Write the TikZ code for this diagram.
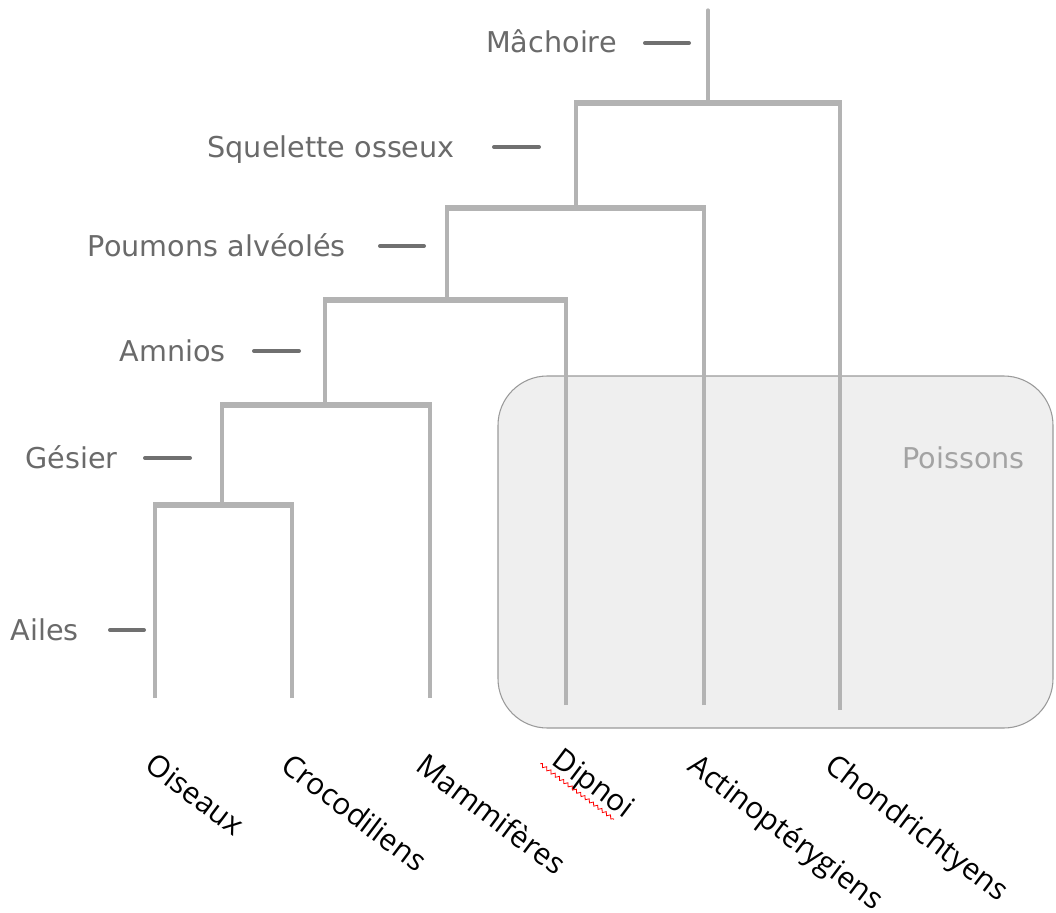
\documentclass[tikz,border=0pt]{standalone}
\usepackage{fontspec}
\setmainfont{DejaVu Sans}
\newfontfamily\taxfont{Open Sans}
\usetikzlibrary{decorations.pathmorphing,calc}
\definecolor{branchgray}{HTML}{B3B3B3}
\definecolor{tickgray}{HTML}{707070}
\definecolor{labelgray}{HTML}{6A6A6A}
\definecolor{boxfill}{HTML}{EFEFEF}
\definecolor{boxline}{HTML}{9A9A9A}
\definecolor{poisgray}{HTML}{A3A3A3}
\begin{document}
\begin{tikzpicture}[x=0.75pt,y=-0.75pt,
  branch/.style={draw=branchgray, line width=3pt},
  barline/.style={draw=branchgray, line width=4.5pt},
  rootline/.style={draw=branchgray, line width=2.4pt, line cap=round},
  tick/.style={draw=tickgray, line width=3pt, line cap=round},
  trait/.style={text=labelgray, font=\fontsize{21.5}{24}\selectfont, inner sep=0pt, anchor=base east},
  taxon/.style={font=\taxfont\fontsize{22.5}{26}\selectfont, rotate=-37, anchor=north west, inner sep=0pt},
  groupbox/.style={draw=boxline, fill=boxfill, line width=0.8pt, rounded corners=37pt}]
\useasboundingbox (0,0) rectangle (1056,913);
% group box
\draw[groupbox] (498,376) rectangle (1053,728);
\node[text=poisgray, font=\fontsize{21.5}{24}\selectfont, inner sep=0pt, anchor=base east] (pois) at (1025,468) {Poissons};
% leaves
\coordinate (O) at (155,698);
\coordinate (C) at (292,698);
\coordinate (M) at (430,698);
\coordinate (D) at (566,705);
\coordinate (A) at (704,705);
\coordinate (Ch) at (840,710);
% junctions
\coordinate (j1) at (222,505);
\coordinate (j2) at (325,405);
\coordinate (j3) at (447,300);
\coordinate (j4) at (576,208);
\coordinate (j5) at (708,103);
\coordinate (top) at (708,10);
% vertical branches
\draw[branch] (O) -- (O |- j1);
\draw[branch] (C) -- (C |- j1);
\draw[branch] (j1) -- (j1 |- j2);
\draw[branch] (M) -- (M |- j2);
\draw[branch] (j2) -- (j2 |- j3);
\draw[branch] (D) -- (D |- j3);
\draw[branch] (j3) -- (j3 |- j4);
\draw[branch] (A) -- (A |- j4);
\draw[branch] (j4) -- (j4 |- j5);
\draw[branch] (Ch) -- (Ch |- j5);
\draw[rootline] (j5) -- (top);
% horizontal bars
\draw[barline] ($(O |- j1)+(-2,0)$) -- ($(C |- j1)+(2,0)$);
\draw[barline] ($(j1 |- j2)+(-2,0)$) -- ($(M |- j2)+(2,0)$);
\draw[barline] ($(j2 |- j3)+(-2,0)$) -- ($(D |- j3)+(2,0)$);
\draw[barline] ($(j3 |- j4)+(-2,0)$) -- ($(A |- j4)+(2,0)$);
\draw[barline] ($(j4 |- j5)+(-2,0)$) -- ($(Ch |- j5)+(2,0)$);
% character labels and ticks
\node[trait] (lmach) at (617,53) {Mâchoire};
\coordinate (tmach1) at (645,43); \coordinate (tmach2) at (689,43);
\draw[tick] (tmach1) -- (tmach2);
\node[trait] (lsq) at (455,157) {Squelette osseux};
\coordinate (tsq1) at (494,147); \coordinate (tsq2) at (539,147);
\draw[tick] (tsq1) -- (tsq2);
\node[trait] (lpou) at (346,256) {Poumons alvéolés};
\coordinate (tpou1) at (380,246); \coordinate (tpou2) at (424,246);
\draw[tick] (tpou1) -- (tpou2);
\node[trait] (lamn) at (226,361) {Amnios};
\coordinate (tamn1) at (254,351); \coordinate (tamn2) at (299,351);
\draw[tick] (tamn1) -- (tamn2);
\node[trait] (lges) at (118,468) {Gésier};
\coordinate (tges1) at (145,458); \coordinate (tges2) at (190,458);
\draw[tick] (tges1) -- (tges2);
\node[trait] (lail) at (79,640) {Ailes};
\coordinate (tail1) at (110,630); \coordinate (tail2) at (144,630);
\draw[tick] (tail1) -- (tail2);
% taxa
\node[taxon] (nO) at (157,751) {Oiseaux};
\node[taxon] (nC) at (293,751) {Crocodiliens};
\node[taxon] (nM) at (428,751) {Mammifères};
\node[taxon] (nD) at (564,746) {Dipnoi};
\node[taxon] (nA) at (700,751) {Actinoptérygiens};
\node[taxon] (nCh) at (837,751) {Chondrichtyens};
\draw[red, line width=0.6pt, decorate, decoration={snake, amplitude=1.2pt, segment length=4pt}] ($(nD.south west)!0.0!(nD.south east)+(-6,-6)$) -- ($(nD.south east)+(-6,-6)$);
\end{tikzpicture}
\end{document}
